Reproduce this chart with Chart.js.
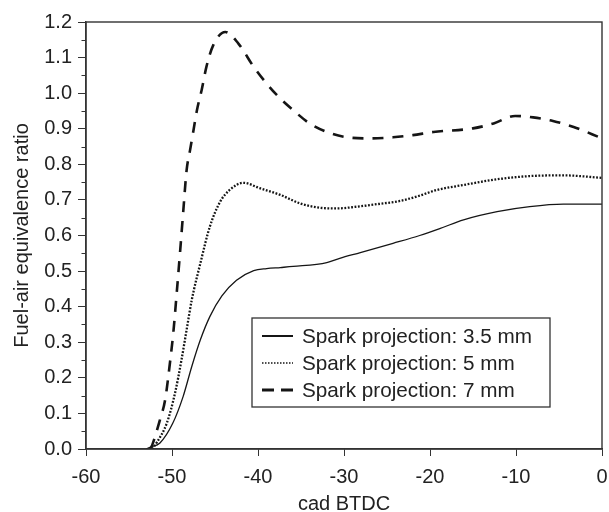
<!DOCTYPE html>
<html>
<head>
<meta charset="utf-8">
<script src="https://cdn.jsdelivr.net/npm/chart.js@4"></script>
<style>
  body { margin: 0; background: #fff; }
  #chart { display: block; }
</style>
</head>
<body>
<canvas id="chart" width="609" height="512"></canvas>
<script>
// --- DATA ---
const seriesLabels = ['Spark projection: 3.5 mm', 'Spark projection: 5 mm', 'Spark projection: 7 mm'];

const x35 = [-53, -52.5, -51.4, -49.9, -48.7, -47.7, -46.7, -45.6, -44.2, -42.5, -40.5, -39, -37.4, -35.9, -32, -30.5, -28.1, -24.3, -21.2, -18.8, -16.1, -12.2, -8.4, -4.5, 0];
const y35 = [0, 0.005, 0.017, 0.073, 0.148, 0.232, 0.307, 0.372, 0.43, 0.474, 0.501, 0.507, 0.51, 0.513, 0.524, 0.536, 0.552, 0.578, 0.6, 0.62, 0.644, 0.667, 0.681, 0.688, 0.688];

const x5 = [-52.3, -51.8, -50.6, -49.65, -48.9, -48.3, -47.7, -46.7, -45.6, -44.4, -43.3, -41.7, -39.8, -37.4, -35.1, -32.8, -30.85, -28.5, -26.2, -23.5, -21.2, -19.2, -16.1, -12.2, -8.4, -4.5, 0];
const y5 = [0, 0.017, 0.073, 0.157, 0.25, 0.335, 0.419, 0.522, 0.625, 0.695, 0.728, 0.748, 0.733, 0.714, 0.69, 0.678, 0.676, 0.681, 0.688, 0.697, 0.712, 0.728, 0.742, 0.758, 0.767, 0.769, 0.762];

const x7 = [-52.5, -52.2, -51.4, -50.8, -50.2, -49.85, -49.45, -49.07, -48.7, -48.3, -47.9, -47.5, -47.1, -46.55, -46, -45.2, -43.8, -42.3, -40.5, -39, -37.5, -35.9, -34, -32, -29.7, -27, -24.3, -22, -19.6, -15, -12.6, -10.1, -8, -5.7, -3.3, 0];
const y7 = [0, 0.018, 0.082, 0.138, 0.25, 0.326, 0.439, 0.551, 0.665, 0.784, 0.84, 0.896, 0.952, 1.009, 1.074, 1.135, 1.172, 1.14, 1.074, 1.027, 0.987, 0.952, 0.915, 0.891, 0.876, 0.873, 0.876, 0.882, 0.891, 0.901, 0.915, 0.936, 0.932, 0.922, 0.905, 0.873];

const xTicks = [-60, -50, -40, -30, -20, -10, 0];
const yTicks = [0, 0.1, 0.2, 0.3, 0.4, 0.5, 0.6, 0.7, 0.8, 0.9, 1.0, 1.1, 1.2];

// --- STYLE ---
const FONT = '"Liberation Sans", Arial, Helvetica, sans-serif';
const AXIS = '#333';
const TEXT = '#222';
const LINE = '#151515';

const toPoints = (xs, ys) => xs.map((x, i) => ({ x: x, y: ys[i] }));

// minor y ticks + frame round the plot
const framePlugin = {
    id: 'frame',
    afterDraw(chart) {
        const { ctx, chartArea, scales } = chart;
        ctx.save();
        ctx.strokeStyle = AXIS;
        ctx.lineWidth = 1.4;
        ctx.strokeRect(chartArea.left, chartArea.top, chartArea.right - chartArea.left, chartArea.bottom - chartArea.top);
        // minor ticks between the labelled ones
        ctx.lineWidth = 1;
        for (let i = 0; i < yTicks.length - 1; i++) {
            const v = (yTicks[i] + yTicks[i + 1]) / 2;
            const py = Math.round(scales.y.getPixelForValue(v)) + 0.5;
            ctx.beginPath();
            ctx.moveTo(chartArea.left - 4.5, py);
            ctx.lineTo(chartArea.left, py);
            ctx.stroke();
        }
        ctx.restore();
    }
};

// boxed legend inside the plot
const boxLegend = {
    id: 'boxLegend',
    afterDraw(chart) {
        const { ctx } = chart;
        const box = { x: 252, y: 318, w: 298, h: 89 };
        const rows = [336, 363, 390];
        const sampleDash = [[], [1.5, 1.5], [12, 7]];
        const sampleWidth = [2, 1.6, 2.8];
        ctx.save();
        ctx.fillStyle = '#fff';
        ctx.fillRect(box.x, box.y, box.w, box.h);
        ctx.strokeStyle = AXIS;
        ctx.lineWidth = 1.3;
        ctx.strokeRect(box.x, box.y, box.w, box.h);
        chart.data.datasets.forEach((ds, i) => {
            ctx.strokeStyle = ds.borderColor;
            ctx.lineWidth = sampleWidth[i];
            ctx.setLineDash(sampleDash[i]);
            ctx.beginPath();
            ctx.moveTo(262, rows[i]);
            ctx.lineTo(293, rows[i]);
            ctx.stroke();
            ctx.setLineDash([]);
            ctx.fillStyle = TEXT;
            ctx.font = '20.7px ' + FONT;
            ctx.textBaseline = 'middle';
            ctx.fillText(ds.label, 302, rows[i] + 1);
        });
        ctx.restore();
    }
};

const chart = new Chart(document.getElementById('chart'), {
    type: 'line',
    data: {
        datasets: [
            { label: seriesLabels[0], data: toPoints(x35, y35), borderColor: LINE, borderWidth: 1.3, borderDash: [] },
            { label: seriesLabels[1], data: toPoints(x5, y5), borderColor: LINE, borderWidth: 2.3, borderDash: [1.8, 1.6] },
            { label: seriesLabels[2], data: toPoints(x7, y7), borderColor: LINE, borderWidth: 2.6, borderDash: [11, 9] }
        ]
    },
    options: {
        responsive: false,
        animation: false,
        layout: { padding: { top: 22, right: 7, left: 0, bottom: 0 } },
        elements: {
            point: { radius: 0 },
            line: { cubicInterpolationMode: 'monotone', fill: false }
        },
        plugins: { legend: { display: false }, tooltip: { enabled: false } },
        scales: {
            x: {
                type: 'linear',
                min: -60, max: 0,
                afterBuildTicks: s => { s.ticks = xTicks.map(v => ({ value: v })); },
                ticks: { color: TEXT, font: { family: FONT, size: 20 }, padding: 9, callback: v => String(v) },
                grid: { drawOnChartArea: false, tickLength: 7, color: AXIS, tickWidth: 1 },
                border: { color: AXIS, width: 1.4 },
                title: { display: true, text: 'cad BTDC', color: TEXT, font: { family: FONT, size: 20, lineHeight: 1 }, padding: { top: 0, bottom: -2 } },
                afterFit: s => { s.height = 63; s.paddingLeft = 0; s.paddingRight = 0; }
            },
            y: {
                type: 'linear',
                min: 0, max: 1.2,
                afterBuildTicks: s => { s.ticks = yTicks.map(v => ({ value: v })); },
                ticks: { color: TEXT, font: { family: FONT, size: 20 }, padding: 6, callback: v => v.toFixed(1) },
                grid: { drawOnChartArea: false, tickLength: 8, color: AXIS, tickWidth: 1 },
                border: { color: AXIS, width: 1.4 },
                title: { display: true, text: 'Fuel-air equivalence ratio', color: TEXT, font: { family: FONT, size: 20 }, padding: { top: 10, bottom: 4 } },
                afterFit: s => { s.width = 86; s.paddingTop = 0; s.paddingBottom = 0; }
            }
        }
    },
    plugins: [framePlugin, boxLegend]
});
</script>
</body>
</html>
